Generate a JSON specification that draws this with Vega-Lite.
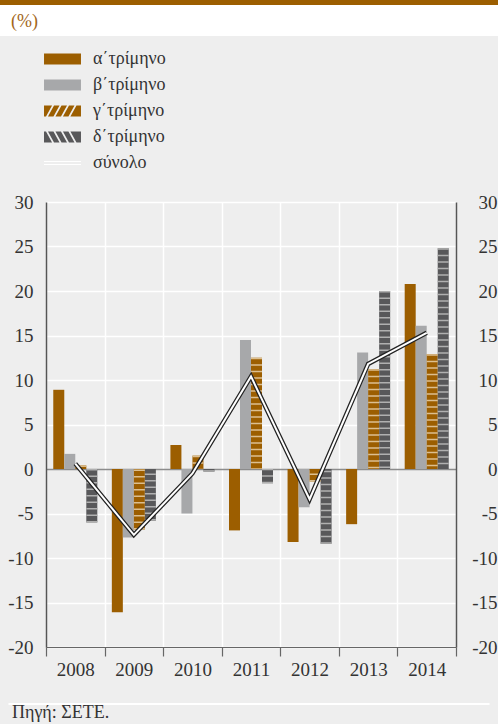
{
  "$schema": "https://vega.github.io/schema/vega-lite/v6.json",
  "background": "#eeeeee",
  "padding": {"left": 0, "top": 0, "right": 0, "bottom": 10},
  "config": {
    "view": {"stroke": null},
    "font": "Liberation Serif",
    "title": {"font": "Liberation Serif", "fontWeight": "normal"}
  },
  "datasets": {
    "quarters": [
      {"year": "2008", "q": "α΄τρίμηνο", "v": 8.9},
      {"year": "2008", "q": "β΄τρίμηνο", "v": 1.7},
      {"year": "2008", "q": "γ΄τρίμηνο", "v": 0.4},
      {"year": "2008", "q": "δ΄τρίμηνο", "v": -6.0},
      {"year": "2009", "q": "α΄τρίμηνο", "v": -16.1},
      {"year": "2009", "q": "β΄τρίμηνο", "v": -7.7},
      {"year": "2009", "q": "γ΄τρίμηνο", "v": -6.8},
      {"year": "2009", "q": "δ΄τρίμηνο", "v": -5.8},
      {"year": "2010", "q": "α΄τρίμηνο", "v": 2.7},
      {"year": "2010", "q": "β΄τρίμηνο", "v": -5.0},
      {"year": "2010", "q": "γ΄τρίμηνο", "v": 1.5},
      {"year": "2010", "q": "δ΄τρίμηνο", "v": -0.3},
      {"year": "2011", "q": "α΄τρίμηνο", "v": -6.9},
      {"year": "2011", "q": "β΄τρίμηνο", "v": 14.5},
      {"year": "2011", "q": "γ΄τρίμηνο", "v": 12.5},
      {"year": "2011", "q": "δ΄τρίμηνο", "v": -1.6},
      {"year": "2012", "q": "α΄τρίμηνο", "v": -8.2},
      {"year": "2012", "q": "β΄τρίμηνο", "v": -4.3},
      {"year": "2012", "q": "γ΄τρίμηνο", "v": -1.4},
      {"year": "2012", "q": "δ΄τρίμηνο", "v": -8.4},
      {"year": "2013", "q": "α΄τρίμηνο", "v": -6.2},
      {"year": "2013", "q": "β΄τρίμηνο", "v": 13.1},
      {"year": "2013", "q": "γ΄τρίμηνο", "v": 11.2},
      {"year": "2013", "q": "δ΄τρίμηνο", "v": 20.0},
      {"year": "2014", "q": "α΄τρίμηνο", "v": 20.8},
      {"year": "2014", "q": "β΄τρίμηνο", "v": 16.1},
      {"year": "2014", "q": "γ΄τρίμηνο", "v": 12.9},
      {"year": "2014", "q": "δ΄τρίμηνο", "v": 24.8}
    ],
    "totals": [
      {"year": "2008", "total": 0.6},
      {"year": "2009", "total": -7.4},
      {"year": "2010", "total": -0.5},
      {"year": "2011", "total": 10.4},
      {"year": "2012", "total": -3.4},
      {"year": "2013", "total": 11.8},
      {"year": "2014", "total": 15.3}
    ],
    "header": [{"label": "(%)"}]
  },
  "spacing": 0,
  "center": true,
  "resolve": {"scale": {"color": "independent", "stroke": "independent"}, "legend": {"color": "independent", "stroke": "independent"}},
  "vconcat": [
    {
      "width": 498, "height": 5,
      "view": {"fill": "#9c5e00", "stroke": null},
      "data": {"values": []},
      "mark": "rule",
      "encoding": {}
    },
    {
      "width": 498, "height": 31,
      "view": {"fill": "#ffffff", "stroke": null},
      "data": {"name": "header"},
      "mark": {"type": "text", "align": "left", "baseline": "alphabetic", "dx": -238, "dy": 6.5, "fontSize": 18, "font": "Liberation Serif", "color": "#a2661a"},
      "encoding": {"text": {"field": "label", "type": "nominal"}}
    },
    {
      "width": 498, "height": 445,
      "resolve": {"axis": {"y": "independent"}},
      "layer": [
        {
          "data": {"name": "quarters"},
          "mark": {"type": "bar"},
          "encoding": {
            "x": {
              "field": "year", "type": "nominal",
              "scale": {"paddingInner": 0, "paddingOuter": 0, "range": [46, 456]},
              "axis": {
                "title": " ", "titleFontSize": 2, "titlePadding": 22, "labelAngle": 0, "tickBand": "extent",
                "ticks": true, "tickSize": 9, "tickColor": "#666666", "tickWidth": 1.2,
                "grid": true, "gridColor": "#ffffff", "gridWidth": 1.5,
                "domain": true, "domainColor": "#666666", "domainWidth": 1.2,
                "labelFontSize": 19, "labelColor": "#333333", "labelPadding": 4, "labelFont": "Liberation Serif"
              }
            },
            "xOffset": {
              "field": "q", "type": "nominal",
              "scale": {"domain": ["α΄τρίμηνο", "β΄τρίμηνο", "γ΄τρίμηνο", "δ΄τρίμηνο"], "paddingInner": 0, "paddingOuter": 0.66}
            },
            "y": {
              "field": "v", "type": "quantitative",
              "scale": {"domain": [-20, 30], "nice": false, "zero": false},
              "axis": {
                "orient": "left", "offset": -46, "values": [-20, -15, -10, -5, 0, 5, 10, 15, 20, 25, 30],
                "labelExpr": "toString(datum.value)",
                "title": null,
                "grid": true, "gridWidth": 1.5,
                "gridColor": {"condition": {"test": "datum.value === 0", "value": "#8c8c8c"}, "value": "#ffffff"},
                "ticks": false, "domainColor": "#555555", "domainWidth": 1.5,
                "labelFontSize": 19, "labelPadding": 13, "labelColor": "#333333", "labelFont": "Liberation Serif"
              }
            },
            "color": {
              "field": "q", "type": "nominal",
              "scale": {
                "domain": ["α΄τρίμηνο", "β΄τρίμηνο", "γ΄τρίμηνο", "δ΄τρίμηνο", "σύνολο"],
                "range": ["#9c5e00", "#a7a8aa", "#9c5e00", "#58585a", "#ffffff"]
              },
              "legend": {
                "orient": "top", "direction": "vertical", "title": null,
                "labelFont": "Liberation Serif", "labelFontSize": 18, "labelColor": "#333333",
                "symbolSize": 121, "symbolStrokeWidth": 0, "symbolOffset": 39.5, "labelOffset": 21.5,
                "rowPadding": 8, "offset": 16, "padding": 14,
                "encode": {
                  "symbols": {
                    "update": {
                      "shape": {"signal": "datum.value === 'γ΄τρίμηνο' ? 'M-3.36,-1H3.36V1H-3.36ZM-1.9,-1L-3.0,1L-2.64,1L-1.54,-1ZM-0.54,-1L-1.64,1L-1.28,1L-0.18,-1ZM0.82,-1L-0.28,1L0.08,1L1.18,-1ZM2.18,-1L1.08,1L1.44,1L2.54,-1Z' : datum.value === 'δ΄τρίμηνο' ? 'M-3.36,-1H3.36V1H-3.36ZM-3.0,-1L-1.9,1L-1.54,1L-2.64,-1ZM-1.64,-1L-0.54,1L-0.18,1L-1.28,-1ZM-0.28,-1L0.82,1L1.18,1L0.08,-1ZM1.08,-1L2.18,1L2.54,1L1.44,-1Z' : datum.value === 'σύνολο' ? 'M-3.36,-0.36H3.36V0.36H-3.36ZM-3.36,-0.18V0.18H3.36V-0.18Z' : 'M-3.36,-1H3.36V1H-3.36Z'"},
                      "fill": {"signal": "datum.value === 'β΄τρίμηνο' ? '#a7a8aa' : datum.value === 'δ΄τρίμηνο' ? '#58585a' : datum.value === 'σύνολο' ? '#222222' : '#9c5e00'"},
                      "strokeWidth": {"value": 0},
                      "opacity": {"value": 1}
                    }
                  }
                }
              }
            }
          }
        },
        {
          "data": {"name": "quarters"},
          "transform": [{"filter": {"field": "q", "oneOf": ["γ΄τρίμηνο", "δ΄τρίμηνο"]}}],
          "mark": {"type": "rule", "strokeWidth": 11, "strokeDash": [1.5, 5], "strokeCap": "butt"},
          "encoding": {
            "x": {"field": "year", "type": "nominal"},
            "xOffset": {"field": "q", "type": "nominal"},
            "y": {"field": "v", "type": "quantitative", "scale": {"domain": [-20, 30], "nice": false, "zero": false}, "axis": null},
            "y2": {"datum": 0},
            "stroke": {
              "field": "q", "type": "nominal",
              "scale": {"domain": ["γ΄τρίμηνο", "δ΄τρίμηνο"], "range": ["#dcbf90", "#b0b0b0"]},
              "legend": null
            }
          }
        },
        {
          "data": {"name": "totals"},
          "mark": {"type": "line", "color": "#222222", "strokeWidth": 4.5, "strokeJoin": "miter"},
          "encoding": {
            "x": {"field": "year", "type": "nominal"},
            "y": {
              "field": "total", "type": "quantitative",
              "scale": {"domain": [-20, 30], "nice": false, "zero": false},
              "axis": {
                "orient": "right", "offset": -42, "values": [-20, -15, -10, -5, 0, 5, 10, 15, 20, 25, 30],
                "labelExpr": "toString(datum.value)",
                "title": null, "grid": false, "ticks": false,
                "domainColor": "#555555", "domainWidth": 1.5,
                "labelAlign": "right", "labelPadding": 41,
                "labelFontSize": 19, "labelColor": "#333333", "labelFont": "Liberation Serif"
              }
            }
          }
        },
        {
          "data": {"name": "totals"},
          "mark": {"type": "line", "strokeWidth": 2, "strokeJoin": "miter"},
          "encoding": {
            "x": {"field": "year", "type": "nominal"},
            "y": {"field": "total", "type": "quantitative", "scale": {"domain": [-20, 30], "nice": false, "zero": false}, "axis": null},
            "color": {"datum": "σύνολο", "type": "nominal"}
          }
        }
      ]
    },
    {
      "width": 481, "height": 2,
      "view": {"fill": "#ffffff", "stroke": null},
      "title": {"text": "Πηγή: ΣΕΤΕ.", "orient": "bottom", "anchor": "start", "frame": "group", "offset": 8, "dx": 3.5, "dy": -9, "fontSize": 18, "color": "#333333"},
      "data": {"values": []},
      "mark": "rule",
      "encoding": {}
    }
  ]
}
